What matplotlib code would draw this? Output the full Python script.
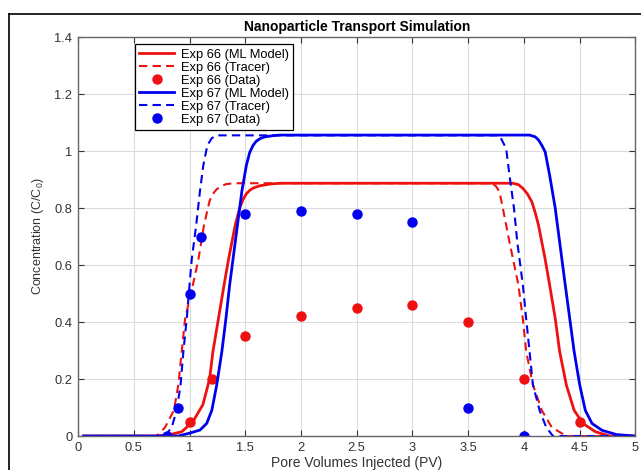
import matplotlib
matplotlib.use('Agg')
import matplotlib.pyplot as plt
from matplotlib.lines import Line2D

plt.rcParams['font.family'] = ['Liberation Sans', 'DejaVu Sans']
plt.rcParams['mathtext.fontset'] = 'custom'
plt.rcParams['mathtext.rm'] = 'Liberation Sans'

# Exp 66 (red)
pv_66_model = [0.05, 0.70, 0.825, 0.93, 1.03, 1.12, 1.18, 1.21, 1.26, 1.31, 1.35, 1.41, 1.45,
               1.48, 1.51, 1.54, 1.57, 1.63, 1.72, 1.81, 3.90, 3.95, 3.99, 4.03, 4.07, 4.10, 4.13,
               4.19, 4.23, 4.28, 4.32, 4.38, 4.45, 4.53, 4.64, 4.77, 5.0]
c_66_model = [0, 0, 0.005, 0.015, 0.05, 0.11, 0.2, 0.296, 0.413, 0.53, 0.62, 0.74, 0.80,
              0.83, 0.85, 0.862, 0.870, 0.878, 0.884, 0.887, 0.887, 0.882, 0.869, 0.850, 0.822, 0.785,
              0.74, 0.62, 0.53, 0.413, 0.296, 0.179, 0.09, 0.044, 0.015, 0, 0]

pv_66_tracer = [0.05, 0.705, 0.78, 0.86, 0.90, 0.93, 0.96, 1.03, 1.08, 1.13, 1.18, 1.21, 1.244,
                1.29, 1.33, 1.40, 3.71, 3.75, 3.78, 3.81, 3.87, 3.95, 3.99, 4.02, 4.08, 4.16, 4.25,
                4.38, 5.0]
c_66_tracer = [0, 0, 0.03, 0.09, 0.18, 0.296, 0.41, 0.53, 0.62, 0.74, 0.825, 0.850, 0.866,
               0.878, 0.884, 0.887, 0.887, 0.876, 0.857, 0.80, 0.68, 0.53, 0.41, 0.296, 0.18, 0.09,
               0.03, 0, 0]

pv_66_data = [1.0, 1.2, 1.5, 2.0, 2.5, 3.0, 3.5, 4.0, 4.5]
c_66_data = [0.05, 0.2, 0.35, 0.42, 0.45, 0.46, 0.40, 0.20, 0.05]

# Exp 67 (blue)
pv_67_model = [0.05, 0.90, 1.0, 1.094, 1.154, 1.20, 1.244, 1.29, 1.327, 1.36, 1.39, 1.43, 1.47,
               1.51, 1.54, 1.57, 1.60, 1.64, 1.68, 1.75, 1.81, 4.05, 4.10, 4.13, 4.16, 4.19, 4.23,
               4.28, 4.32, 4.37, 4.41, 4.45, 4.50, 4.55, 4.61, 4.70, 4.83, 5.0]
c_67_model = [0, 0, 0.01, 0.021, 0.044, 0.09, 0.179, 0.296, 0.413, 0.53, 0.62, 0.74, 0.86,
              0.95, 0.995, 1.02, 1.035, 1.045, 1.05, 1.054, 1.056, 1.056, 1.05, 1.039, 1.02, 0.997,
              0.915, 0.80, 0.68, 0.53, 0.413, 0.296, 0.179, 0.09, 0.044, 0.02, 0.005, 0]

pv_67_tracer = [0.05, 0.78, 0.84, 0.885, 0.92, 0.945, 0.975, 1.0, 1.02, 1.06, 1.094, 1.124, 1.16,
                1.20, 1.244, 3.78, 3.84, 3.87, 3.91, 3.94, 3.99, 4.02, 4.05, 4.08, 4.14, 4.20, 4.26, 5.0]
c_67_tracer = [0, 0, 0.03, 0.09, 0.18, 0.296, 0.41, 0.53, 0.62, 0.74, 0.86, 0.95, 1.02,
               1.045, 1.055, 1.055, 1.009, 0.915, 0.80, 0.68, 0.53, 0.41, 0.296, 0.18, 0.09, 0.03, 0, 0]

pv_67_data = [0.8, 0.9, 1.0, 1.1, 1.5, 2.0, 2.5, 3.0, 3.5, 4.0]
c_67_data = [0.0, 0.1, 0.5, 0.7, 0.78, 0.79, 0.78, 0.75, 0.10, 0.0]

red = '#ee1111'
blue = '#0000ee'

fig = plt.figure(figsize=(6.41, 4.70), dpi=100)
ax = fig.add_axes([0.1217, 0.0723, 0.8697, 0.8489])

ax.plot(pv_66_model, c_66_model, '-', color=red, lw=2, label='Exp 66 (ML Model)')
ax.plot(pv_66_tracer, c_66_tracer, '--', color=red, lw=1.5, dashes=(4, 2.5), label='Exp 66 (Tracer)')
ax.plot(pv_66_data, c_66_data, 'o', color=red, ms=6.5, label='Exp 66 (Data)')
ax.plot(pv_67_model, c_67_model, '-', color=blue, lw=2, label='Exp 67 (ML Model)')
ax.plot(pv_67_tracer, c_67_tracer, '--', color=blue, lw=1.5, dashes=(4, 2.5), label='Exp 67 (Tracer)')
ax.plot(pv_67_data, c_67_data, 'o', color=blue, ms=6.5, label='Exp 67 (Data)')

ax.set_xlim(0, 5)
ax.set_ylim(0, 1.4)
ax.set_xticks([0, 0.5, 1, 1.5, 2, 2.5, 3, 3.5, 4, 4.5, 5])
ax.set_xticklabels(['0', '0.5', '1', '1.5', '2', '2.5', '3', '3.5', '4', '4.5', '5'])
ax.set_yticks([0, 0.2, 0.4, 0.6, 0.8, 1.0, 1.2, 1.4])
ax.set_yticklabels(['0', '0.2', '0.4', '0.6', '0.8', '1', '1.2', '1.4'])
ax.grid(True, color='#dcdcdc', lw=0.8)
ax.set_axisbelow(True)
ax.tick_params(direction='in', top=True, right=True, length=4, width=0.8,
               labelsize=9.3, colors='#333333', pad=4)
for s in ax.spines.values():
    s.set_color('#666666')
    s.set_linewidth(1.0)

ax.set_title('Nanoparticle Transport Simulation', fontsize=10, fontweight='bold', pad=4)
ax.set_xlabel('Pore Volumes Injected (PV)', fontsize=10, color='#333333', labelpad=2)
ax.set_ylabel('Concentration (C/C$_0$)', fontsize=9, color='#333333', labelpad=6)

leg = ax.legend(loc='upper left', bbox_to_anchor=(0.102, 0.982), borderaxespad=0,
                fontsize=9.3, handlelength=2.7, handletextpad=0.5, labelspacing=0.07,
                borderpad=0.35, fancybox=False, framealpha=1, edgecolor='black', numpoints=1)
leg.get_frame().set_linewidth(0.9)

# screenshot border on the left and top
fig.add_artist(Line2D([0.014, 0.014], [0.0, 0.970], color='black', lw=1.2, transform=fig.transFigure))
fig.add_artist(Line2D([0.014, 1.0], [0.970, 0.970], color='black', lw=1.2, transform=fig.transFigure))

fig.savefig('out.png', dpi=100)
